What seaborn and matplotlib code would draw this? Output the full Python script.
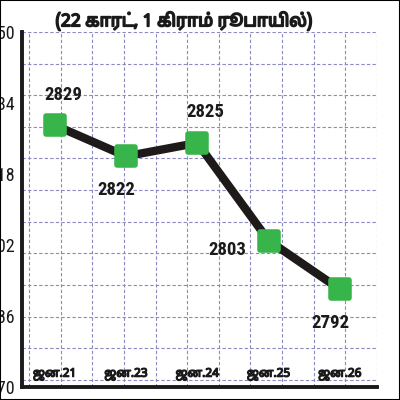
import matplotlib
matplotlib.use("Agg")
import matplotlib.pyplot as plt
import matplotlib.patheffects as pe
import numpy as np
import pandas as pd
import seaborn as sns
from matplotlib.markers import MarkerStyle
from matplotlib.patches import Rectangle

# data
months = ["ஜன.21", "ஜன.23", "ஜன.24", "ஜன.25", "ஜன.26"]
prices = [2829, 2822, 2825, 2803, 2792]
label_pos = ["above", "below", "above", "left", "below"]
y_ticks = [2770, 2786, 2802, 2818, 2834, 2850]
title = "(22 காரட், 1 கிராம் ரூபாயில்)"


def main():
    sns.set_style("white")
    tamil = ["Noto Sans Tamil", "Lohit Tamil", "Noto Sans", "DejaVu Sans"]
    narrow = ["Roboto Condensed", "Liberation Sans Narrow", "Liberation Sans", "DejaVu Sans"]
    plt.rcParams["font.family"] = tamil
    ink = "#1a1a1a"
    fake_bold = [pe.withStroke(linewidth=0.9, foreground=ink)]

    df = pd.DataFrame({"month": months, "price": prices})
    df["x"] = range(len(df))

    fig = plt.figure(figsize=(4, 4), dpi=100)
    pos = [0.055, 0.0325, 0.8875, 0.8875]

    # background square grid
    gax = fig.add_axes(pos, zorder=0)
    gax.set_xlim(-0.22, 11)
    gax.set_ylim(11.23, 0)
    gax.set_xticks(range(12))
    gax.set_yticks(range(12))
    gax.grid(True, color="#8a8ac0", linestyle=(0, (3, 2)), linewidth=0.8)
    gax.tick_params(length=0, labelbottom=False, labelleft=False)
    for s in gax.spines.values():
        s.set_visible(False)

    ax = fig.add_axes(pos, zorder=1)
    ax.patch.set_alpha(0)
    mk = MarkerStyle("s", joinstyle="round")
    sns.lineplot(data=df, x="x", y="price", ax=ax, color="#1e1a1a",
                 linewidth=6, marker=mk, markersize=13,
                 markerfacecolor="#38b54a", markeredgecolor="#38b54a",
                 markeredgewidth=4, solid_capstyle="round")

    for i, (v, p) in enumerate(zip(prices, label_pos)):
        off = {"above": (6, 22), "below": (-7, -24), "left": (-30, -7)}[p]
        ax.annotate(str(v), (i, v), xytext=off, textcoords="offset points",
                    ha="center", va="center", fontsize=13.5, fontweight="bold",
                    family=narrow, color=ink)

    ax.set_xlim(-0.46, 4.52)
    ax.set_ylim(2770, 2850)
    ax.set_yticks(y_ticks)
    ax.set_yticklabels([str(t) for t in y_ticks], family=narrow)
    ax.set_xticks(range(len(months)))
    ax.set_xticklabels(months, fontsize=8.5, color=ink)
    for lab in ax.get_xticklabels():
        lab.set_path_effects(fake_bold)
    ax.set_xticks(np.arange(len(months)) + 0.5, minor=True)
    ax.tick_params(axis="x", which="major", length=0, pad=-14)
    ax.tick_params(axis="x", which="minor", direction="in", length=6, width=2.5, color=ink)
    ax.tick_params(axis="y", direction="in", length=6, width=3, color=ink,
                   pad=5, labelsize=13, labelcolor=ink)
    ax.set_xlabel("")
    ax.set_ylabel("")
    for side in ["top", "right"]:
        ax.spines[side].set_visible(False)
    for side in ["left", "bottom"]:
        ax.spines[side].set_linewidth(2.8)
        ax.spines[side].set_color(ink)
        ax.spines[side].set_capstyle("projecting")

    t = fig.text(0.46, 0.948, title, ha="center", va="center", fontsize=12.5,
                 color=ink)
    t.set_path_effects([pe.withStroke(linewidth=1.2, foreground=ink)])
    fig.patches.append(Rectangle((0, 0), 1, 1, transform=fig.transFigure,
                                 fill=False, edgecolor="black", linewidth=1.5))

    fig.savefig("out.png", dpi=100)


if __name__ == "__main__":
    main()
